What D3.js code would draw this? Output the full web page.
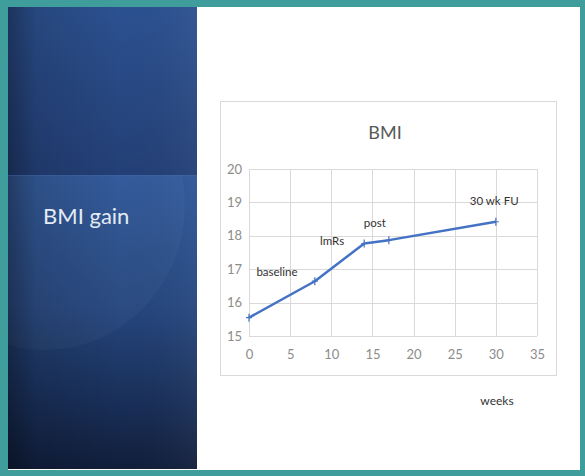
<!DOCTYPE html>
<html>
<head>
<meta charset="utf-8">
<script src="https://cdn.jsdelivr.net/npm/d3@7"></script>
<style>
  html, body { margin: 0; padding: 0; background: #fff; }
  svg { display: block; }
</style>
</head>
<body>
<svg id="chart" width="585" height="476"></svg>
<script>
// ---- data ----
const slideTitle = "BMI gain";
const chartTitle = "BMI";
const xAxisTitle = "weeks";
const weeks = [0, 8, 14, 17, 30];
const bmi = [15.55, 16.64, 17.77, 17.87, 18.42];
const xTicks = [0, 5, 10, 15, 20, 25, 30, 35];
const yTicks = [15, 16, 17, 18, 19, 20];
const noteText = ["baseline", "lmRs", "post", "30 wk FU"];
const noteWeek = [3.4, 10.1, 15.3, 29.8];
const noteBmi = [16.92, 17.86, 18.37, 19.03];

const svg = d3.select("#chart");
const W = 585, H = 476;
const defs = svg.append("defs");

// ---- slide frame ----
svg.append("rect").attr("width", W).attr("height", H).attr("fill", "#3f9d9b");
svg.append("rect").attr("x", 8).attr("y", 7).attr("width", 572).attr("height", 463).attr("fill", "#ffffff");

// left blue panel
const gTop = defs.append("linearGradient").attr("id", "gTop").attr("x1", 0).attr("y1", 0).attr("x2", 0).attr("y2", 1);
gTop.append("stop").attr("offset", 0).attr("stop-color", "#2c5190");
gTop.append("stop").attr("offset", 1).attr("stop-color", "#233f76");
const gBot = defs.append("linearGradient").attr("id", "gBot").attr("x1", 0).attr("y1", 0).attr("x2", 0).attr("y2", 1);
gBot.append("stop").attr("offset", 0).attr("stop-color", "#2e5698");
gBot.append("stop").attr("offset", 0.45).attr("stop-color", "#25467e");
gBot.append("stop").attr("offset", 0.8).attr("stop-color", "#182d55");
gBot.append("stop").attr("offset", 1).attr("stop-color", "#111e3b");
const gLeft = defs.append("linearGradient").attr("id", "gLeft").attr("x1", 0).attr("y1", 0).attr("x2", 1).attr("y2", 0);
gLeft.append("stop").attr("offset", 0).attr("stop-color", "#000").attr("stop-opacity", 0.35);
gLeft.append("stop").attr("offset", 0.15).attr("stop-color", "#000").attr("stop-opacity", 0.12);
gLeft.append("stop").attr("offset", 0.6).attr("stop-color", "#000").attr("stop-opacity", 0);
gLeft.append("stop").attr("offset", 1).attr("stop-color", "#fff").attr("stop-opacity", 0.04);
defs.append("clipPath").attr("id", "panelClip").append("rect").attr("x", 8).attr("y", 7).attr("width", 189).attr("height", 462);
defs.append("clipPath").attr("id", "lowClip").append("rect").attr("x", 8).attr("y", 175).attr("width", 189).attr("height", 294);

const panel = svg.append("g").attr("clip-path", "url(#panelClip)");
panel.append("rect").attr("x", 8).attr("y", 7).attr("width", 189).attr("height", 168).attr("fill", "url(#gTop)");
panel.append("rect").attr("x", 8).attr("y", 175).attr("width", 189).attr("height", 294).attr("fill", "url(#gBot)");
panel.append("g").attr("clip-path", "url(#lowClip)")
  .append("ellipse").attr("cx", 45).attr("cy", 205).attr("rx", 140).attr("ry", 145)
  .attr("fill", "#ffffff").attr("fill-opacity", 0.03);
panel.append("rect").attr("x", 8).attr("y", 7).attr("width", 189).attr("height", 462).attr("fill", "url(#gLeft)");
panel.append("line").attr("x1", 8).attr("x2", 197).attr("y1", 175.5).attr("y2", 175.5)
  .attr("stroke", "#4a70b0").attr("stroke-opacity", 0.3);

svg.append("text").attr("x", 43).attr("y", 224)
  .attr("font-family", "Lato, 'Open Sans', sans-serif").attr("font-size", 22)
  .attr("fill", "#e3ebf5").text(slideTitle);

// ---- chart box ----
svg.append("rect").attr("x", 220.5).attr("y", 101.5).attr("width", 336).attr("height", 274)
  .attr("fill", "#fff").attr("stroke", "#d9d9d9");

const x = d3.scaleLinear().domain([0, 35]).range([249, 537]);
const y = d3.scaleLinear().domain([15, 20]).range([336, 169]);
const font = "Lato, 'Open Sans', sans-serif";

svg.append("text").attr("x", 385).attr("y", 139).attr("text-anchor", "middle")
  .attr("font-family", font).attr("font-size", 18).attr("fill", "#595959").text(chartTitle);

// gridlines
const grid = svg.append("g");
grid.selectAll(".hg").data(yTicks).join("line")
  .attr("x1", x(0)).attr("x2", x(35))
  .attr("y1", d => Math.round(y(d)) + 0.5).attr("y2", d => Math.round(y(d)) + 0.5)
  .attr("stroke", "#d9d9d9");
grid.selectAll(".vg").data(xTicks).join("line")
  .attr("x1", d => Math.round(x(d)) + 0.5).attr("x2", d => Math.round(x(d)) + 0.5)
  .attr("y1", y(20)).attr("y2", y(15))
  .attr("stroke", "#d9d9d9");

// axes (labels only)
const xAxis = d3.axisBottom(x).tickValues(xTicks).tickFormat(d3.format("d")).tickSize(0).tickPadding(14);
const gx = svg.append("g").attr("transform", `translate(0,${y(15)})`).call(xAxis);
const yAxis = d3.axisLeft(y).tickValues(yTicks).tickFormat(d3.format("d")).tickSize(0).tickPadding(7);
const gy = svg.append("g").attr("transform", `translate(${x(0)},0)`).call(yAxis);
[gx, gy].forEach(g => {
  g.select(".domain").remove();
  g.selectAll("text").attr("font-family", font).attr("font-size", 13).attr("fill", "#8c8c8c");
});

// line + markers
const pts = weeks.map((w, i) => [w, bmi[i]]);
svg.append("path").datum(pts)
  .attr("d", d3.line().x(d => x(d[0])).y(d => y(d[1])))
  .attr("fill", "none").attr("stroke", "#4472c4").attr("stroke-width", 2.5)
  .attr("stroke-linejoin", "round");
svg.append("g").selectAll("path").data(pts).join("path")
  .attr("d", d => `M${x(d[0]) - 3},${y(d[1])}H${x(d[0]) + 3}M${x(d[0])},${y(d[1]) - 4}V${y(d[1]) + 4}`)
  .attr("stroke", "#4472c4").attr("stroke-width", 1.2);

// annotations
svg.append("g").selectAll("text").data(noteText).join("text")
  .attr("x", (d, i) => x(noteWeek[i])).attr("y", (d, i) => y(noteBmi[i]))
  .attr("dy", "0.35em").attr("text-anchor", "middle")
  .attr("font-family", font).attr("font-size", 11.5).attr("fill", "#333")
  .text(d => d);

svg.append("text").attr("x", 497).attr("y", 405).attr("text-anchor", "middle")
  .attr("font-family", font).attr("font-size", 12).attr("fill", "#333").text(xAxisTitle);
</script>
</body>
</html>
